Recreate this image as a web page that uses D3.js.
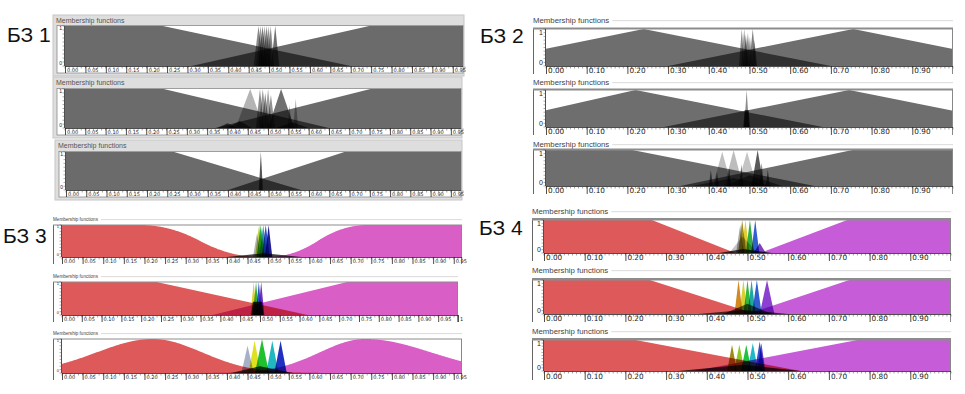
<!DOCTYPE html>
<html><head><meta charset="utf-8">
<script src="https://cdn.jsdelivr.net/npm/d3@7/dist/d3.min.js"></script>
<style>
html,body{margin:0;padding:0;background:#fff;}
svg{display:block;}
.mf{mix-blend-mode:multiply;}
</style></head><body>
<svg id="chart" width="965" height="394"></svg>
<script>
// ================= DATA =================
const groupNames = ["БЗ 1", "БЗ 2", "БЗ 3", "БЗ 4"];
const panelTitle = "Membership functions";
const yLabels = ["1", "0"];
const ticksStep05 = [0, 0.05, 0.10, 0.15, 0.20, 0.25, 0.30, 0.35, 0.40, 0.45, 0.50, 0.55, 0.60, 0.65, 0.70, 0.75, 0.80, 0.85, 0.90, 0.95];
const ticksStep05to1 = [0, 0.05, 0.10, 0.15, 0.20, 0.25, 0.30, 0.35, 0.40, 0.45, 0.50, 0.55, 0.60, 0.65, 0.70, 0.75, 0.80, 0.85, 0.90, 0.95, 1];
const ticksStep10 = [0, 0.1, 0.2, 0.3, 0.4, 0.5, 0.6, 0.7, 0.8, 0.9];
const domainBZ1 = [0, 0.975];
const domainBZ3 = [0, 0.97];
const domainFull = [0, 1];

// membership functions: [type, params..., (height)]
// БЗ 1
const bz1p1 = [
  ["trap", -1, -0.5, 0.24, 0.70], ["trap", 0.31, 0.745, 1.5, 2],
  ["tri", 0.462, 0.474, 0.486], ["tri", 0.468, 0.479, 0.490], ["tri", 0.473, 0.484, 0.495],
  ["tri", 0.478, 0.489, 0.500], ["tri", 0.484, 0.494, 0.504], ["tri", 0.490, 0.499, 0.508],
  ["tri", 0.496, 0.504, 0.512], ["tri", 0.505, 0.515, 0.525]
];
const bz1p1Col = ["#6b6b6b", "#6b6b6b", "#8a8a8a", "#9a9a9a", "#7a7a7a", "#a0a0a0", "#808080", "#909090", "#858585", "#707070"];
const bz1p2 = [
  ["trap", -1, -0.5, 0.243, 0.65], ["trap", 0.37, 0.752, 1.5, 2],
  ["tri", 0.42, 0.456, 0.49], ["tri", 0.50, 0.532, 0.565],
  ["tri", 0.470, 0.480, 0.490], ["tri", 0.476, 0.487, 0.498], ["tri", 0.483, 0.493, 0.503, 0.9],
  ["tri", 0.490, 0.500, 0.510], ["tri", 0.497, 0.507, 0.517, 0.85],
  ["tri", 0.562, 0.568, 0.574, 0.75], ["tri", 0.548, 0.553, 0.558, 0.6],
  ["tri", 0.375, 0.40, 0.425, 0.12], ["tri", 0.40, 0.43, 0.46, 0.18], ["tri", 0.52, 0.56, 0.60, 0.15]
];
const bz1p2Col = ["#6b6b6b", "#6b6b6b", "#b4b4b4", "#707070", "#8c8c8c", "#999999", "#888888", "#a0a0a0", "#909090", "#aaaaaa", "#aaaaaa", "#666666", "#666666", "#666666"];
const bz1p3 = [
  ["trap", -1, -0.5, 0.267, 0.58], ["trap", 0.40, 0.687, 1.5, 2],
  ["tri", 0.476, 0.481, 0.486]
];
const bz1p3Col = ["#6b6b6b", "#6b6b6b", "#555555"];

// БЗ 2
const bz2p1 = [
  ["tri", -0.21, 0.24, 0.70], ["tri", 0.30, 0.755, 1.21],
  ["tri", 0.474, 0.481, 0.488], ["tri", 0.479, 0.487, 0.495], ["tri", 0.484, 0.491, 0.498, 0.85],
  ["tri", 0.489, 0.496, 0.503, 0.9], ["tri", 0.494, 0.501, 0.508, 0.8], ["tri", 0.499, 0.508, 0.517],
  ["tri", 0.505, 0.512, 0.519, 0.7]
];
const bz2p1Col = ["#6e6e6e", "#6e6e6e", "#8a8a8a", "#999999", "#777777", "#8f8f8f", "#a0a0a0", "#808080", "#9a9a9a"];
const bz2p2 = [
  ["tri", -0.18, 0.22, 0.68], ["tri", 0.29, 0.745, 1.2],
  ["tri", 0.487, 0.493, 0.499], ["trap", 0.485, 0.488, 0.498, 0.501, 0.45]
];
const bz2p2Col = ["#6e6e6e", "#6e6e6e", "#8c8c8c", "#4a4a4a"];
const bz2p3 = [
  ["trap", -1, -0.5, 0.212, 0.66], ["trap", 0.33, 0.753, 1.5, 2],
  ["tri", 0.41, 0.433, 0.456, 0.95], ["tri", 0.438, 0.461, 0.484, 1], ["tri", 0.47, 0.494, 0.518, 0.95],
  ["tri", 0.505, 0.52, 0.535, 1],
  ["tri", 0.40, 0.405, 0.41, 0.45], ["tri", 0.415, 0.42, 0.425, 0.4], ["tri", 0.445, 0.45, 0.455, 0.5],
  ["tri", 0.475, 0.48, 0.485, 0.6], ["tri", 0.525, 0.53, 0.535, 0.65], ["tri", 0.54, 0.545, 0.55, 0.45],
  ["tri", 0.36, 0.46, 0.56, 0.22], ["tri", 0.44, 0.50, 0.58, 0.3]
];
const bz2p3Col = ["#6e6e6e", "#6e6e6e", "#c0c0c0", "#bdbdbd", "#c4c4c4", "#5a5a5a", "#707070", "#707070", "#707070", "#707070", "#707070", "#707070", "#808080", "#7a7a7a"];

// БЗ 3
const bz3p1 = [
  ["z", 0.19, 0.48], ["s", 0.50, 0.74],
  ["tri", 0.40, 0.49, 0.58, 0.12],
  ["tri", 0.463, 0.473, 0.483, 0.75], ["tri", 0.468, 0.478, 0.488], ["tri", 0.472, 0.482, 0.492],
  ["tri", 0.478, 0.488, 0.498], ["tri", 0.484, 0.494, 0.504], ["tri", 0.492, 0.501, 0.510]
];
const bz3p1Col = ["#de5a5a", "#d95ec6", "#444444", "#b5b5b5", "#b8d040", "#30b040", "#30a0b0", "#3050d0", "#202090"];
const bz3p2 = [
  ["trap", -1, -0.5, 0.239, 0.62], ["trap", 0.38, 0.72, 1.5, 2],
  ["trap", 0.478, 0.482, 0.505, 0.509, 0.4],
  ["tri", 0.476, 0.484, 0.492], ["tri", 0.482, 0.490, 0.498], ["tri", 0.489, 0.497, 0.505],
  ["tri", 0.495, 0.503, 0.511]
];
const bz3p2Col = ["#de5a5a", "#d95ec6", "#333333", "#e0d030", "#30b040", "#3050d0", "#7030c0"];
const bz3p3 = [
  ["gauss2", 0.22, 0.136, 0.12], ["gauss2", 0.735, 0.11, 0.16],
  ["tri", 0.41, 0.48, 0.56, 0.2],
  ["tri", 0.435, 0.45, 0.465, 0.8], ["tri", 0.452, 0.467, 0.482, 0.95], ["tri", 0.468, 0.485, 0.502, 1],
  ["tri", 0.495, 0.51, 0.525, 0.95], ["tri", 0.515, 0.53, 0.545, 0.95]
];
const bz3p3Col = ["#de5a5a", "#d95ec6", "#444444", "#a8b0c8", "#e0e020", "#20c030", "#20b8c0", "#2030c0"];

// БЗ 4
const bz4p1 = [
  ["trap", -1, -0.5, 0.265, 0.47], ["trap", 0.53, 0.745, 1.5, 2],
  ["tri", 0.43, 0.49, 0.56, 0.12],
  ["tri", 0.455, 0.488, 0.525, 0.5], ["tri", 0.472, 0.482, 0.492, 0.85],
  ["tri", 0.477, 0.487, 0.497], ["tri", 0.485, 0.495, 0.505], ["tri", 0.496, 0.506, 0.516],
  ["tri", 0.509, 0.519, 0.529], ["tri", 0.515, 0.53, 0.545, 0.3]
];
const bz4p1Col = ["#de5a5a", "#c65cd8", "#444444", "#c4c4c4", "#a8a8a8", "#a09020", "#e0d030", "#30b040", "#3060d0", "#8040c0"];
const bz4p2 = [
  ["trap", -1, -0.5, 0.26, 0.52], ["trap", 0.50, 0.75, 1.5, 2],
  ["tri", 0.38, 0.49, 0.60, 0.12], ["tri", 0.44, 0.50, 0.56, 0.3],
  ["tri", 0.468, 0.478, 0.488], ["tri", 0.480, 0.490, 0.500], ["tri", 0.490, 0.500, 0.510],
  ["tri", 0.500, 0.510, 0.520], ["tri", 0.511, 0.523, 0.535], ["tri", 0.530, 0.548, 0.566]
];
const bz4p2Col = ["#de5a5a", "#c65cd8", "#555555", "#666666", "#d08a20", "#d8d030", "#30b840", "#20a8a0", "#3060d0", "#8a40d0"];
const bz4p3 = [
  ["trap", -1, -0.5, 0.225, 0.63], ["trap", 0.37, 0.77, 1.5, 2],
  ["tri", 0.33, 0.49, 0.63, 0.2],
  ["tri", 0.450, 0.462, 0.474, 0.85], ["tri", 0.467, 0.480, 0.493, 0.85], ["tri", 0.484, 0.497, 0.510, 0.85],
  ["tri", 0.500, 0.513, 0.526, 0.9], ["tri", 0.518, 0.530, 0.542, 0.95], ["tri", 0.524, 0.534, 0.544, 0.9]
];
const bz4p3Col = ["#de5a5a", "#c65cd8", "#444444", "#a08a10", "#8cc820", "#20c040", "#20b8c8", "#3050d0", "#7040d0"];

// ================= LAYOUT / STYLE =================
const styles = {
  classic: { head: 7, tick: 5, ylab: 5, tickFam: "DejaVu Sans" },
  l2: { head: 7.8, tick: 7.3, ylab: 7, tickFam: "DejaVu Sans", top: 2 },
  l3: { head: 4.6, tick: 5, ylab: 4, tickFam: "DejaVu Sans", top: 1 },
  l4: { head: 7.8, tick: 7.3, ylab: 7, tickFam: "DejaVu Sans", top: 2.5 }
};
const panels = [
  { st: "classic", x0: 53, x1: 464, px0: 65, px1: 463, hy: 23, bgy0: 15, bgy1: 76, py0: 26, py1: 66, ty1: 73, dom: domainBZ1, ticks: ticksStep05, mfs: bz1p1, cols: bz1p1Col },
  { st: "classic", x0: 53, x1: 462, px0: 65, px1: 461, hy: 85, bgy0: 77, bgy1: 138, py0: 89, py1: 128, ty1: 135, dom: domainBZ1, ticks: ticksStep05, mfs: bz1p2, cols: bz1p2Col },
  { st: "classic", x0: 55, x1: 462, px0: 66, px1: 461, hy: 148, bgy0: 140, bgy1: 200, py0: 152, py1: 190, ty1: 197, dom: domainBZ1, ticks: ticksStep05, mfs: bz1p3, cols: bz1p3Col },
  { st: "l2", x0: 533, x1: 953, px0: 546, px1: 953, hy: 23, py0: 29, py1: 66, ty1: 74, dom: domainFull, ticks: ticksStep10, mfs: bz2p1, cols: bz2p1Col },
  { st: "l2", x0: 533, x1: 953, px0: 546, px1: 953, hy: 85, py0: 90, py1: 127, ty1: 135, dom: domainFull, ticks: ticksStep10, mfs: bz2p2, cols: bz2p2Col },
  { st: "l2", x0: 533, x1: 953, px0: 546, px1: 953, hy: 147, py0: 150, py1: 186, ty1: 194, dom: domainFull, ticks: ticksStep10, mfs: bz2p3, cols: bz2p3Col },
  { st: "l3", x0: 53, x1: 462, px0: 62, px1: 462, hy: 221, py0: 225, py1: 257, ty1: 264, dom: domainBZ3, ticks: ticksStep05, mfs: bz3p1, cols: bz3p1Col },
  { st: "l3", x0: 53, x1: 458, px0: 62, px1: 458, hy: 278, py0: 282, py1: 315, ty1: 322, dom: domainFull, ticks: ticksStep05to1, mfs: bz3p2, cols: bz3p2Col },
  { st: "l3", x0: 53, x1: 462, px0: 62, px1: 462, hy: 335, py0: 339, py1: 373, ty1: 380, dom: domainBZ3, ticks: ticksStep05, mfs: bz3p3, cols: bz3p3Col },
  { st: "l4", x0: 532, x1: 951, px0: 544, px1: 951, hy: 214, py0: 220, py1: 253, ty1: 261, dom: domainFull, ticks: ticksStep10, mfs: bz4p1, cols: bz4p1Col },
  { st: "l4", x0: 532, x1: 951, px0: 544, px1: 951, hy: 273, py0: 280, py1: 314, ty1: 322, dom: domainFull, ticks: ticksStep10, mfs: bz4p2, cols: bz4p2Col },
  { st: "l4", x0: 532, x1: 951, px0: 544, px1: 951, hy: 334, py0: 340, py1: 371, ty1: 380, dom: domainFull, ticks: ticksStep10, mfs: bz4p3, cols: bz4p3Col }
];
const labelPos = [[7, 42], [480, 43], [3, 243], [479, 235]];

// ================= MF evaluation =================
function zmf(v, a, b) {
  if (v <= a) return 1;
  if (v >= b) return 0;
  const m = (a + b) / 2;
  return v <= m ? 1 - 2 * Math.pow((v - a) / (b - a), 2) : 2 * Math.pow((v - b) / (b - a), 2);
}
function mfPoints(mf, dom) {
  const [t, ...p] = mf;
  if (t === "tri") { const [a, b, c, h = 1] = p; return [[a, 0], [b, h], [c, 0]]; }
  if (t === "trap") { const [a, b, c, d, h = 1] = p; return [[a, 0], [b, h], [c, h], [d, 0]]; }
  let f;
  if (t === "z") f = v => zmf(v, p[0], p[1]);
  else if (t === "s") f = v => 1 - zmf(v, p[0], p[1]);
  else if (t === "gauss2") f = v => { const s = v < p[0] ? p[1] : p[2]; return Math.exp(-Math.pow(v - p[0], 2) / (2 * s * s)); };
  const n = 600;
  return d3.range(n + 1).map(i => { const v = dom[0] + (dom[1] - dom[0]) * i / n; return [v, f(v)]; });
}

// ================= DRAW =================
const svg = d3.select("#chart");
const defs = svg.append("defs");
const fmt = d3.format(".2f");
let clipN = 0;

groupNames.forEach((name, i) => {
  svg.append("text").attr("x", labelPos[i][0]).attr("y", labelPos[i][1])
    .attr("font-family", "Liberation Sans, Arial, sans-serif").attr("font-size", 21)
    .attr("fill", "#111").text(name);
});

panels.forEach(p => {
  const s = styles[p.st];
  const g = svg.append("g");
  const x = d3.scaleLinear().domain(p.dom).range([p.px0, p.px1]);
  const y = d3.scaleLinear().domain([0, 1]).range([p.py1, p.py0]);
  const classic = p.st === "classic";

  if (classic) {
    g.append("rect").attr("x", p.x0).attr("y", p.bgy0).attr("width", p.x1 - p.x0).attr("height", p.bgy1 - p.bgy0)
      .attr("fill", "#dedede").attr("stroke", "#c6c6c6");
    g.append("rect").attr("x", p.x0 + 4).attr("y", p.py0 - 0.5).attr("width", p.x1 - 1 - (p.x0 + 4)).attr("height", p.ty1 - p.py0 + 0.5)
      .attr("fill", "#fff").attr("stroke", "#8a8a8a").attr("stroke-width", 0.8);
    g.append("text").attr("x", p.x0 + 3).attr("y", p.hy).attr("font-family", "Liberation Sans, Arial")
      .attr("font-size", s.head).attr("fill", "#555").text(panelTitle);
  } else {
    const ht = g.append("text").attr("x", p.x0).attr("y", p.hy).attr("font-family", "Liberation Sans, Arial")
      .attr("font-size", s.head).attr("fill", "#444").text(panelTitle);
    const w = ht.node().getComputedTextLength();
    g.append("line").attr("x1", p.x0 + w + 3).attr("x2", p.x1).attr("y1", p.hy - s.head * 0.3).attr("y2", p.hy - s.head * 0.3)
      .attr("stroke", "#d0d0d0").attr("stroke-width", 0.8);
    g.append("rect").attr("x", p.x0).attr("y", p.py0).attr("width", p.x1 - p.x0).attr("height", p.ty1 - p.py0).attr("fill", "#fff");
  }

  // plot area
  const id = "clip" + (clipN++);
  defs.append("clipPath").attr("id", id).append("rect")
    .attr("x", p.px0).attr("y", p.py0).attr("width", p.px1 - p.px0).attr("height", p.py1 - p.py0);
  const pg = g.append("g").attr("clip-path", `url(#${id})`).style("isolation", "isolate");
  pg.append("rect").attr("x", p.px0).attr("y", p.py0).attr("width", p.px1 - p.px0).attr("height", p.py1 - p.py0).attr("fill", "#fff");
  const area = d3.area().x(d => x(d[0])).y0(y(0)).y1(d => y(d[1]));
  p.mfs.forEach((mf, i) => {
    pg.append("path").attr("class", "mf").attr("d", area(mfPoints(mf, p.dom))).attr("fill", p.cols[i]);
  });

  // frame lines (light styles)
  if (!classic) {
    g.append("line").attr("x1", p.x0 + 0.5).attr("x2", p.x0 + 0.5).attr("y1", p.py0).attr("y2", p.ty1).attr("stroke", "#666").attr("stroke-width", 1);
    g.append("line").attr("x1", p.x0).attr("x2", p.x1).attr("y1", p.py0 - s.top / 2 + 0.5).attr("y2", p.py0 - s.top / 2 + 0.5)
      .attr("stroke", "#8c8c8c").attr("stroke-width", s.top);
    g.append("line").attr("x1", p.x1 - 0.5).attr("x2", p.x1 - 0.5).attr("y1", p.py0).attr("y2", p.ty1).attr("stroke", "#888").attr("stroke-width", 1);
  }

  // y axis
  g.append("line").attr("x1", p.px0 - 0.5).attr("x2", p.px0 - 0.5).attr("y1", p.py0).attr("y2", p.py1).attr("stroke", "#222").attr("stroke-width", 0.8);
  d3.range(0, 1.0001, 0.1).forEach(t => {
    g.append("line").attr("x1", p.px0 - 2.5).attr("x2", p.px0 - 0.5).attr("y1", y(t)).attr("y2", y(t)).attr("stroke", "#555").attr("stroke-width", 0.5);
  });
  yLabels.forEach((lab, i) => {
    g.append("text").attr("x", p.px0 - 3).attr("y", i === 0 ? y(1) + s.ylab * 0.8 : y(0) - 1)
      .attr("text-anchor", "end").attr("font-family", "Liberation Sans, Arial").attr("font-size", s.ylab).attr("fill", "#222").text(lab);
  });

  // bottom axis
  g.append("line").attr("x1", p.px0).attr("x2", p.px1).attr("y1", p.py1 + 0.5).attr("y2", p.py1 + 0.5).attr("stroke", "#222").attr("stroke-width", 0.8);
  const minor = d3.range(Math.round(p.dom[1] * 100) + 1).map(i => i / 100);
  g.selectAll(null).data(minor).join("line")
    .attr("x1", d => x(d)).attr("x2", d => x(d)).attr("y1", p.py1 + 0.5).attr("y2", p.py1 + 2.5)
    .attr("stroke", "#444").attr("stroke-width", 0.5);
  const tk = g.selectAll(null).data(p.ticks).join("g").attr("transform", d => `translate(${x(d)},0)`);
  tk.append("line").attr("x1", 0.5).attr("x2", 0.5).attr("y1", p.py1).attr("y2", p.ty1).attr("stroke", "#222").attr("stroke-width", 0.8);
  tk.append("text").attr("x", 2).attr("y", p.ty1 - 1).attr("font-family", s.tickFam).attr("font-size", s.tick).attr("fill", "#222")
    .text(d => d === 1 ? "1" : fmt(d));
});
</script>
</body></html>
